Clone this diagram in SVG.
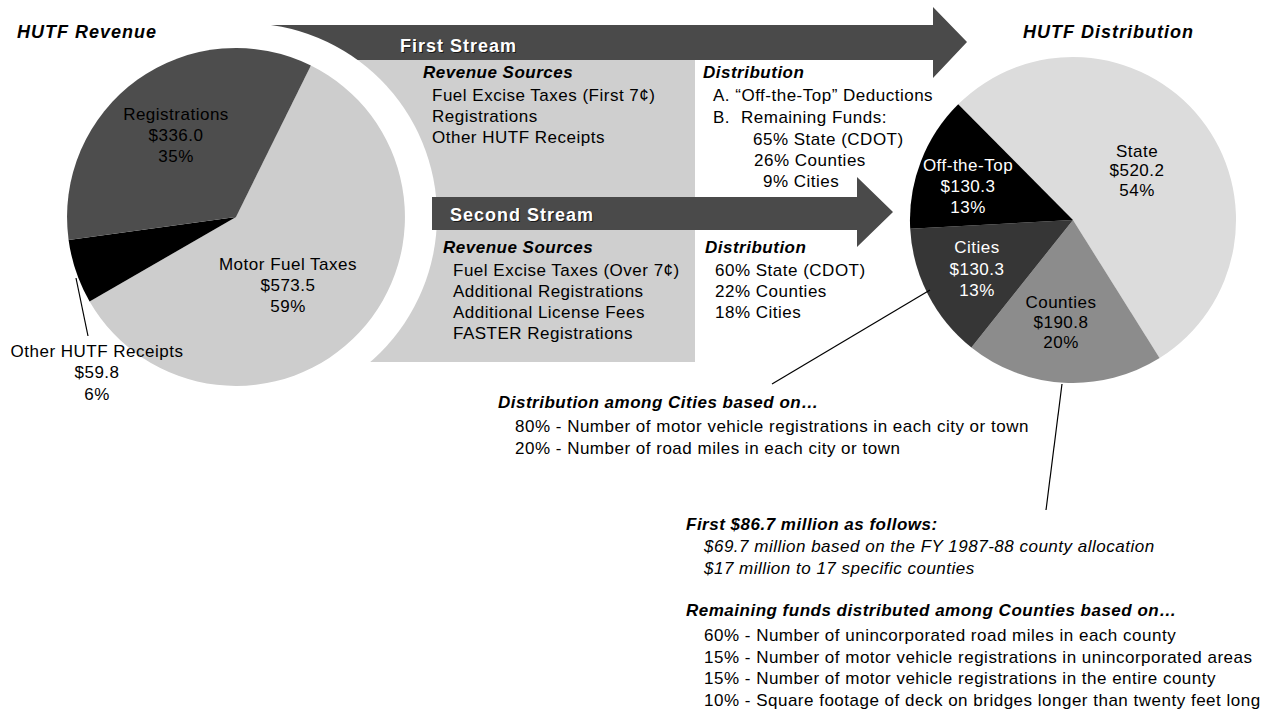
<svg xmlns="http://www.w3.org/2000/svg" width="1270" height="710" viewBox="0 0 1270 710">
<style>
text{font-family:"Liberation Sans",Arial,sans-serif;font-size:17px;letter-spacing:0.5px;fill:#000}
.bi{font-weight:bold;font-style:italic}
.it{font-style:italic}
.ttl{font-size:18px;letter-spacing:1px;font-weight:bold;font-style:italic}
.m{text-anchor:middle}
.w{fill:#fff}
.st{font-size:18px;font-weight:bold;letter-spacing:1px}
.sh{fill:#1a1a1a}
.dark{fill:#4a4a4a}
.lead{stroke:#000;stroke-width:1.2;fill:none}
</style>
<rect width="1270" height="710" fill="#fff"/>
<g id="stream-box"><rect x="250" y="60" width="445" height="302" fill="#cfcfcf"/></g>
<g id="first-stream">
<polygon class="dark" points="260,25 933,25 933,7 967,42 933,78 933,60 260,60"/>
<text class="st sh" x="401" y="53">First Stream</text>
<text class="st w" x="400" y="52">First Stream</text>
<text class="bi" x="423" y="78">Revenue Sources</text>
<text x="432" y="101">Fuel Excise Taxes (First 7¢)</text>
<text x="432" y="122">Registrations</text>
<text x="432" y="143">Other HUTF Receipts</text>
<text class="bi" x="703" y="78">Distribution</text>
<text x="713" y="101">A. “Off-the-Top” Deductions</text>
<text x="713" y="123">B.</text>
<text x="741" y="123">Remaining Funds:</text>
<text x="753" y="145">65% State (CDOT)</text>
<text x="754" y="166">26% Counties</text>
<text x="763" y="187">9% Cities</text>
</g>
<circle cx="244" cy="216" r="193" fill="#fff"/>
<g id="hutf-revenue">
<text class="ttl" x="17" y="38">HUTF Revenue</text>
<path d="M236,217 L310.9,65.5 A169,169 0 1 1 89.6,301.5 Z" fill="#cdcdcd"/>
<path d="M236,217 L89.6,301.5 A169,169 0 0 1 68.6,239.9 Z" fill="#000"/>
<path d="M236,217 L68.6,239.9 A169,169 0 0 1 310.9,65.5 Z" fill="#4d4d4d"/>
<text class="m" x="176" y="120">Registrations</text>
<text class="m" x="176" y="141">$336.0</text>
<text class="m" x="176" y="162">35%</text>
<text class="m" x="288" y="270">Motor Fuel Taxes</text>
<text class="m" x="288" y="291">$573.5</text>
<text class="m" x="288" y="312">59%</text>
<text class="m" x="97" y="357">Other HUTF Receipts</text>
<text class="m" x="97" y="378">$59.8</text>
<text class="m" x="97" y="400">6%</text>
</g>
<g id="second-stream">
<polygon class="dark" points="432,197 857,197 857,177 893,212 857,247 857,230 432,230"/>
<text class="st sh" x="451" y="222">Second Stream</text>
<text class="st w" x="450" y="221">Second Stream</text>
<text class="bi" x="443" y="253">Revenue Sources</text>
<text x="453" y="276">Fuel Excise Taxes (Over 7¢)</text>
<text x="453" y="297">Additional Registrations</text>
<text x="453" y="318">Additional License Fees</text>
<text x="453" y="339">FASTER Registrations</text>
<text class="bi" x="705" y="253">Distribution</text>
<text x="715" y="276">60% State (CDOT)</text>
<text x="715" y="297">22% Counties</text>
<text x="715" y="318">18% Cities</text>
</g>
<g id="hutf-distribution">
<text class="ttl" x="1023" y="38">HUTF Distribution</text>
<path d="M1073,220 L958.2,104.3 A163,163 0 1 1 1159.6,358.1 Z" fill="#dcdcdc"/>
<path d="M1073,220 L1159.6,358.1 A163,163 0 0 1 971.4,347.4 Z" fill="#8c8c8c"/>
<path d="M1073,220 L971.4,347.4 A163,163 0 0 1 910.2,228.8 Z" fill="#363636"/>
<path d="M1073,220 L910.2,228.8 A163,163 0 0 1 958.2,104.3 Z" fill="#000"/>
<text class="m" x="1137" y="157">State</text>
<text class="m" x="1137" y="176">$520.2</text>
<text class="m" x="1137" y="196">54%</text>
<text class="m w" x="968" y="171">Off-the-Top</text>
<text class="m w" x="968" y="192">$130.3</text>
<text class="m w" x="968" y="213">13%</text>
<text class="m w" x="977" y="253">Cities</text>
<text class="m w" x="977" y="275">$130.3</text>
<text class="m w" x="977" y="296">13%</text>
<text class="m" x="1061" y="308">Counties</text>
<text class="m" x="1061" y="328">$190.8</text>
<text class="m" x="1061" y="348">20%</text>
</g>
<g id="connectors">
<line class="lead" x1="76" y1="278" x2="88" y2="336"/>
<line class="lead" x1="930" y1="290" x2="772" y2="384"/>
<line class="lead" x1="1062" y1="384" x2="1046" y2="510"/>
</g>
<g id="cities-note">
<text class="bi" x="498" y="408">Distribution among Cities based on…</text>
<text x="515" y="432">80% - Number of motor vehicle registrations in each city or town</text>
<text x="515" y="454">20% - Number of road miles in each city or town</text>
</g>
<g id="counties-note">
<text class="bi" x="686" y="530">First $86.7 million as follows:</text>
<text class="it" x="704" y="552">$69.7 million based on the FY 1987-88 county allocation</text>
<text class="it" x="704" y="574">$17 million to 17 specific counties</text>
<text class="bi" x="686" y="616">Remaining funds distributed among Counties based on…</text>
<text x="704" y="641">60% - Number of unincorporated road miles in each county</text>
<text x="704" y="663">15% - Number of motor vehicle registrations in unincorporated areas</text>
<text x="704" y="684">15% - Number of motor vehicle registrations in the entire county</text>
<text x="704" y="706">10% - Square footage of deck on bridges longer than twenty feet long</text>
</g>
</svg>
